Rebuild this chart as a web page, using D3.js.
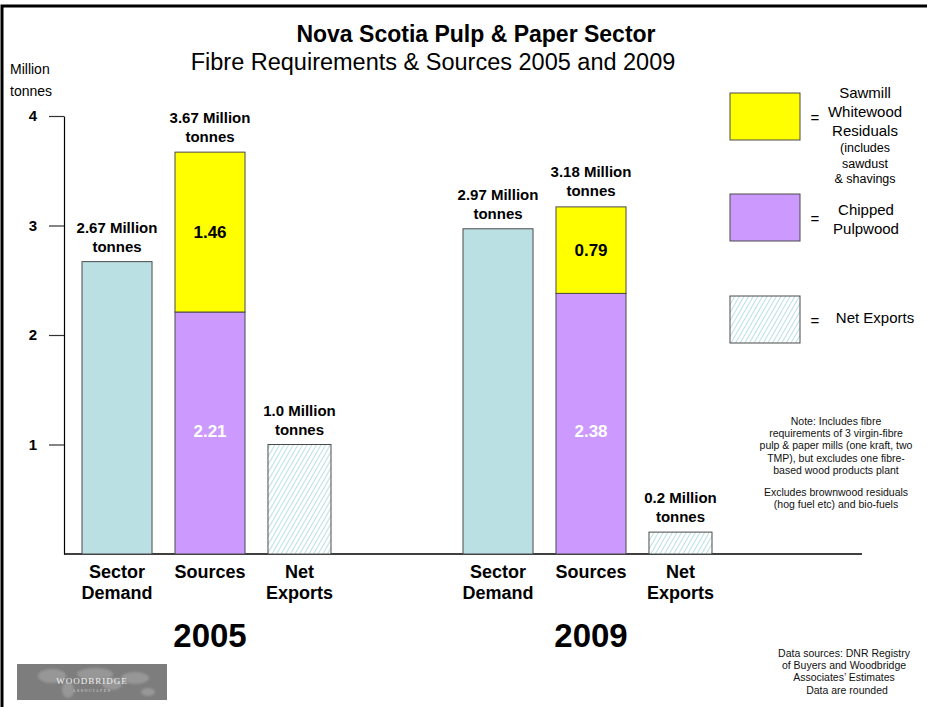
<!DOCTYPE html>
<html>
<head>
<meta charset="utf-8">
<script src="https://cdn.jsdelivr.net/npm/d3@7"></script>
<style>
  body { margin: 0; background: #fff; }
  svg { display: block; font-family: "Liberation Sans", Arial, sans-serif; }
</style>
</head>
<body>
<svg id="chart" width="927" height="707"></svg>
<script>
// Fibre requirements and sources, million tonnes
const years = ["2005", "2009"];
const categories = ["Sector Demand", "Sources", "Net Exports"];
const categoryLines = [["Sector", "Demand"], ["Sources"], ["Net", "Exports"]];
const sectorDemand = [2.67, 2.97];
const chippedPulpwood = [2.21, 2.38];
const sawmillResiduals = [1.46, 0.79];
const sourcesTotal = [3.67, 3.18];
const netExports = [1.0, 0.2];
const yTicks = [1, 2, 3, 4];

const legendItems = [
  { key: "residuals", lines: ["Sawmill", "Whitewood", "Residuals"], small: ["(includes", "sawdust", "& shavings"] },
  { key: "pulpwood", lines: ["Chipped", "Pulpwood"], small: [] },
  { key: "exports", lines: ["Net Exports"], small: [] }
];
const noteLines = [
  "Note: Includes fibre",
  "requirements of 3 virgin-fibre",
  "pulp & paper mills (one kraft, two",
  "TMP), but excludes one fibre-",
  "based wood products plant"
];
const excludeLines = ["Excludes brownwood residuals", "(hog fuel etc) and bio-fuels"];
const sourceLines = ["Data sources: DNR Registry", "of Buyers and Woodbridge", "Associates\u2019 Estimates"];

const COLORS = {
  demand: "#bae0e3",
  pulpwood: "#cc99ff",
  residuals: "#ffff00",
  hatch: "#a9d9dd",
  edge: "#4a4a4a"
};

const svg = d3.select("#chart");

// hatch used for net exports
const defs = svg.append("defs");
const pat = defs.append("pattern")
  .attr("id", "hatch")
  .attr("patternUnits", "userSpaceOnUse")
  .attr("width", 4).attr("height", 4)
  .attr("patternTransform", "rotate(30)");
pat.append("rect").attr("width", 4).attr("height", 4).attr("fill", "#fff");
pat.append("line").attr("x1", 0).attr("y1", 0).attr("x2", 0).attr("y2", 4)
  .attr("stroke", COLORS.hatch).attr("stroke-width", 1.6);

const blur = defs.append("filter").attr("id", "soft");
blur.append("feGaussianBlur").attr("stdDeviation", 0.8);

// page frame
svg.append("rect").attr("x", 2).attr("y", 6).attr("width", 1000).attr("height", 1000)
  .attr("fill", "none").attr("stroke", "#000").attr("stroke-width", 3);

// titles
svg.append("text").attr("x", 476).attr("y", 42).attr("text-anchor", "middle")
  .attr("font-size", 23).attr("font-weight", "bold").text("Nova Scotia Pulp & Paper Sector");
svg.append("text").attr("x", 433).attr("y", 70).attr("text-anchor", "middle")
  .attr("font-size", 23.5).text("Fibre Requirements & Sources 2005 and 2009");

// scales
const y = d3.scaleLinear().domain([0, 4]).range([554, 116]);
const x0 = d3.scaleBand().domain(years).range([82, 844]).padding(0);
const x1 = d3.scaleBand().domain(categories).range([0, 256]).paddingInner(0.247).paddingOuter(0);
const bw = x1.bandwidth();

// y axis
svg.append("text").attr("x", 10).attr("y", 74).attr("font-size", 14).text("Million");
svg.append("text").attr("x", 10).attr("y", 96).attr("font-size", 14).text("tonnes");

const yAxis = svg.append("g").attr("transform", "translate(64,0)")
  .call(d3.axisLeft(y).tickValues(yTicks).tickSize(15).tickPadding(12)
    .tickSizeOuter(0).tickFormat(d3.format("d")));
yAxis.select(".domain").attr("stroke", "#000").attr("stroke-width", 1.2);
yAxis.selectAll(".tick line").attr("stroke", "#333").attr("stroke-width", 1.2);
yAxis.selectAll(".tick text").attr("font-size", 15).attr("font-weight", "bold")
  .attr("fill", "#000").attr("font-family", "Liberation Sans, Arial, sans-serif");

// baseline
svg.append("line").attr("x1", 64).attr("x2", 862).attr("y1", y(0)).attr("y2", y(0))
  .attr("stroke", "#000").attr("stroke-width", 1.6);

const plot = svg.append("g");

function valueLabel(cx, top, text) {
  const t = plot.append("text").attr("text-anchor", "middle")
    .attr("font-size", 15).attr("font-weight", "bold");
  t.append("tspan").attr("x", cx).attr("y", top - 29).text(text);
  t.append("tspan").attr("x", cx).attr("y", top - 10).text("tonnes");
}

years.forEach((yr, i) => {
  const gx = x0(yr);

  // sector demand
  const dx = gx + x1("Sector Demand");
  plot.append("rect").attr("x", dx).attr("y", y(sectorDemand[i]))
    .attr("width", bw).attr("height", y(0) - y(sectorDemand[i]))
    .attr("fill", COLORS.demand).attr("stroke", COLORS.edge).attr("stroke-width", 1);
  valueLabel(dx + bw / 2, y(sectorDemand[i]), d3.format(".2f")(sectorDemand[i]) + " Million");

  // sources: chipped pulpwood with sawmill residuals stacked above
  const sx = gx + x1("Sources");
  const pTop = chippedPulpwood[i];
  const rTop = chippedPulpwood[i] + sawmillResiduals[i];
  plot.append("rect").attr("x", sx).attr("y", y(pTop))
    .attr("width", bw).attr("height", y(0) - y(pTop))
    .attr("fill", COLORS.pulpwood).attr("stroke", COLORS.edge).attr("stroke-width", 1);
  plot.append("rect").attr("x", sx).attr("y", y(rTop))
    .attr("width", bw).attr("height", y(pTop) - y(rTop))
    .attr("fill", COLORS.residuals).attr("stroke", COLORS.edge).attr("stroke-width", 1);
  plot.append("text").attr("x", sx + bw / 2).attr("y", (y(pTop) + y(rTop)) / 2 + 6)
    .attr("text-anchor", "middle").attr("font-size", 17).attr("font-weight", "bold")
    .text(d3.format(".2f")(sawmillResiduals[i]));
  plot.append("text").attr("x", sx + bw / 2).attr("y", 437)
    .attr("text-anchor", "middle").attr("font-size", 17).attr("font-weight", "bold")
    .attr("fill", "#fff").text(d3.format(".2f")(chippedPulpwood[i]));
  valueLabel(sx + bw / 2, y(sourcesTotal[i]), d3.format(".2f")(sourcesTotal[i]) + " Million");

  // net exports
  const nx = gx + x1("Net Exports");
  const nw = bw - 7;
  plot.append("rect").attr("x", nx).attr("y", y(netExports[i]))
    .attr("width", nw).attr("height", y(0) - y(netExports[i]))
    .attr("fill", "url(#hatch)").attr("stroke", COLORS.edge).attr("stroke-width", 1);
  valueLabel(nx + nw / 2, y(netExports[i]), d3.format(".1f")(netExports[i]) + " Million");

  // category labels
  categories.forEach((c, j) => {
    const t = plot.append("text").attr("text-anchor", "middle")
      .attr("font-size", 18).attr("font-weight", "bold");
    const cx = gx + x1(c) + (c === "Net Exports" ? nw : bw) / 2;
    categoryLines[j].forEach((ln, k) => {
      t.append("tspan").attr("x", cx).attr("y", 578 + k * 21).text(ln);
    });
  });

  // year label
  plot.append("text").attr("x", gx + x1("Sources") + bw / 2).attr("y", 647)
    .attr("text-anchor", "middle").attr("font-size", 33).attr("font-weight", "bold").text(yr);
});

// legend
const legendTop = [93, 194, 296];
const legend = svg.append("g");
legendItems.forEach((item, i) => {
  const ly = legendTop[i];
  legend.append("rect").attr("x", 730).attr("y", ly).attr("width", 70).attr("height", 47)
    .attr("fill", item.key === "exports" ? "url(#hatch)" : COLORS[item.key])
    .attr("stroke", COLORS.edge).attr("stroke-width", 1);
  legend.append("text").attr("x", 815).attr("y", ly + 30).attr("text-anchor", "middle")
    .attr("font-size", 15).text("=");
});
// legend labels
const lgText = (lines, cx, y0, step, size) => {
  const t = legend.append("text").attr("text-anchor", "middle").attr("font-size", size);
  lines.forEach((ln, k) => t.append("tspan").attr("x", cx).attr("y", y0 + k * step).text(ln));
};
lgText(legendItems[0].lines, 865, 98, 19, 15);
lgText(legendItems[0].small, 865, 152, 15.5, 12.5);
lgText(legendItems[1].lines, 866, 215, 19, 15);
lgText(legendItems[2].lines, 875, 323, 19, 15);

// notes
const notes = svg.append("g").attr("font-size", 10.5).attr("text-anchor", "middle").attr("fill", "#111");
noteLines.forEach((ln, k) => notes.append("text").attr("x", 836).attr("y", 425 + k * 12.2).text(ln));
excludeLines.forEach((ln, k) => notes.append("text").attr("x", 836).attr("y", 496 + k * 12.2).text(ln));
sourceLines.forEach((ln, k) => notes.append("text").attr("x", 844).attr("y", 657 + k * 12.2).text(ln));
notes.append("text").attr("x", 847).attr("y", 694).text("Data are rounded");

// company logo block
const logo = svg.append("g");
logo.append("rect").attr("x", 17).attr("y", 664).attr("width", 150).attr("height", 36).attr("fill", "#7d7d7d");
const land = logo.append("g").attr("fill", "#979797").attr("filter", "url(#soft)");
[[52, 676, 14, 7], [68, 690, 6, 8], [95, 674, 18, 6], [112, 684, 10, 6], [135, 678, 14, 6], [148, 692, 7, 4]]
  .forEach(([cx, cy, rx, ry]) => land.append("ellipse").attr("cx", cx).attr("cy", cy).attr("rx", rx).attr("ry", ry));
logo.append("text").attr("x", 92).attr("y", 684).attr("text-anchor", "middle")
  .attr("font-family", "Liberation Serif, serif").attr("font-size", 9).attr("letter-spacing", 1)
  .attr("fill", "#f2f2f2").text("WOODBRIDGE");
logo.append("text").attr("x", 92).attr("y", 692).attr("text-anchor", "middle")
  .attr("font-family", "Liberation Serif, serif").attr("font-size", 4).attr("letter-spacing", 1.5)
  .attr("fill", "#ddd").text("ASSOCIATES");
</script>
</body>
</html>
